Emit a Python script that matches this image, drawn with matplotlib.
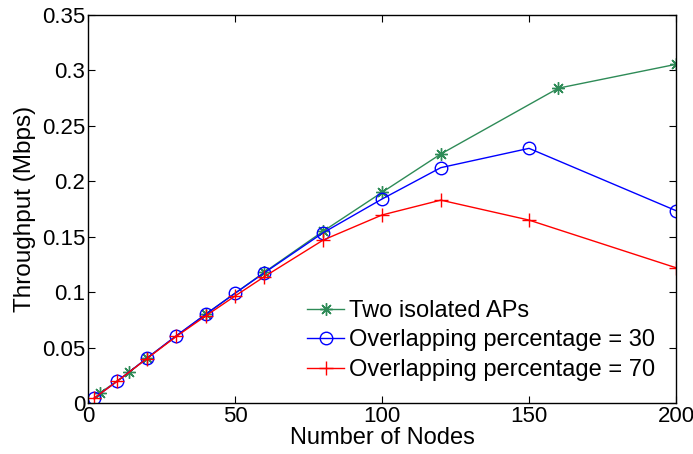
import matplotlib
matplotlib.use('Agg')
import matplotlib.pyplot as plt

plt.rcParams['font.family'] = ['Liberation Sans', 'DejaVu Sans']

# throughput vs. number of nodes
x_iso = [4, 14, 20, 40, 60, 80, 100, 120, 160, 200]
y_iso = [0.0088, 0.0277, 0.0405, 0.080, 0.118, 0.155, 0.190, 0.2246, 0.284, 0.3055]

x_ov = [2, 10, 20, 30, 40, 50, 60, 80, 100, 120, 150, 200]
y_ov30 = [0.0042, 0.0198, 0.0403, 0.0607, 0.080, 0.099, 0.1175, 0.1536, 0.184, 0.2123, 0.2297, 0.1735]
y_ov70 = [0.0042, 0.0198, 0.040, 0.060, 0.0785, 0.0965, 0.114, 0.147, 0.1696, 0.183, 0.165, 0.122]

labels = ['Two isolated APs', 'Overlapping percentage = 30', 'Overlapping percentage = 70']

fig = plt.figure(figsize=(6.93, 4.54), dpi=100)
ax = fig.add_axes([0.127, 0.1123, 0.8485, 0.8547])

ax.plot(x_iso, y_iso, color='#2e8b57', marker=(8, 2, 0), markersize=9, mew=1, lw=1, label=labels[0])
ax.plot(x_ov, y_ov30, color='blue', marker='o', markersize=9, mfc='none', lw=1, label=labels[1])
ax.plot(x_ov, y_ov70, color='red', marker='+', markersize=10, lw=1, label=labels[2])

ax.set_xlim(0, 200)
ax.set_ylim(0, 0.35)
ax.set_xticks([0, 50, 100, 150, 200])
ax.set_yticks([0, 0.05, 0.1, 0.15, 0.2, 0.25, 0.3, 0.35])
ax.set_yticklabels(['0', '0.05', '0.1', '0.15', '0.2', '0.25', '0.3', '0.35'])
ax.tick_params(direction='in', top=True, right=True, length=5, labelsize=16, pad=2)
for s in ax.spines.values():
    s.set_linewidth(1)

ax.set_xlabel('Number of Nodes', fontsize=17, labelpad=0)
ax.set_ylabel('Throughput (Mbps)', fontsize=17.5, labelpad=4)

ax.legend(loc='upper left', bbox_to_anchor=(0.357, 0.29), frameon=False, fontsize=17,
          handlelength=1.55, handletextpad=0.2, labelspacing=0.32, borderaxespad=0)

fig.savefig('out.png', dpi=100)
plt.close()
